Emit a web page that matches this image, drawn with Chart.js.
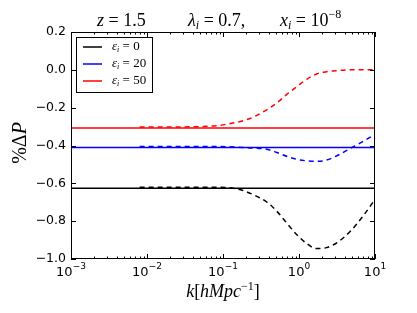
<!DOCTYPE html>
<html>
<head>
<meta charset="utf-8">
<script src="https://cdn.jsdelivr.net/npm/chart.js@4.4.1/dist/chart.umd.min.js"></script>
<style>body{margin:0;background:#fff}</style>
</head>
<body>
<canvas id="c" width="417" height="313"></canvas>
<script>
// valores de epsilon_i (legenda)
const epsValues = ['0', '20', '50'];
const colors = ['#000000', '#0000ff', '#ff0000'];

// linhas cheias (nivel constante)
const kSolid = [1e-3, 10];
const solidLevels = [-0.626, -0.41, -0.307];

// curvas tracejadas
const kDashed = [0.008, 0.02, 0.05, 0.083, 0.12, 0.18, 0.25, 0.38, 0.51, 0.69, 0.93, 1.26, 1.7, 2.3, 3.2, 4.7, 6.9, 10];
const dashedEps0 = [-0.621, -0.621, -0.621, -0.621, -0.623, -0.637, -0.66, -0.70, -0.747, -0.81, -0.87, -0.918, -0.945, -0.94, -0.912, -0.855, -0.775, -0.685];
const dashedEps20 = [-0.405, -0.405, -0.405, -0.405, -0.407, -0.41, -0.413, -0.42, -0.437, -0.457, -0.473, -0.481, -0.484, -0.477, -0.453, -0.416, -0.38, -0.34];
const dashedEps50 = [-0.302, -0.302, -0.30, -0.295, -0.285, -0.27, -0.25, -0.21, -0.175, -0.13, -0.09, -0.05, -0.022, -0.01, -0.004, 0.0, 0.0, 0.0];

// ticks
const xMajorTicks = [1e-3, 1e-2, 1e-1, 1, 10];
const xTickExp = ['-3', '-2', '-1', '0', '1'];
const yTicks = [0.2, 0.0, -0.2, -0.4, -0.6, -0.8, -1.0];

const SERIF = '"Liberation Serif", "DejaVu Serif", serif';
const SANS = '"DejaVu Sans", sans-serif';

function pts(xs, ys) {
    return xs.map((x, i) => ({ x: x, y: ys[i] }));
}

const datasets = [];
const dashedSets = [dashedEps0, dashedEps20, dashedEps50];
solidLevels.forEach((lvl, i) => {
    datasets.push({
        data: kSolid.map(k => ({ x: k, y: lvl })),
        borderColor: colors[i],
        borderWidth: 1.5,
        pointRadius: 0
    });
    datasets.push({
        data: pts(kDashed, dashedSets[i]),
        borderColor: colors[i],
        borderWidth: 1.5,
        borderDash: [5, 4],
        pointRadius: 0,
        cubicInterpolationMode: 'monotone'
    });
});

// desenha trechos de texto com fontes diferentes
function drawRuns(ctx, x, y, runs, align) {
    let total = 0;
    runs.forEach(r => { ctx.font = r[1]; total += ctx.measureText(r[0]).width; });
    let cx = x;
    if (align === 'center') cx = x - total / 2;
    runs.forEach(r => {
        ctx.font = r[1];
        ctx.fillText(r[0], cx, y + (r[2] || 0));
        cx += ctx.measureText(r[0]).width;
    });
}

const decor = {
    id: 'decor',
    afterDraw(chart) {
        const ctx = chart.ctx;
        const a = chart.chartArea;
        const xs = chart.scales.x, ys = chart.scales.y;
        ctx.save();
        ctx.strokeStyle = '#000';
        ctx.fillStyle = '#000';
        ctx.lineWidth = 1;

        // moldura
        ctx.strokeRect(a.left + 0.5, a.top + 0.5, a.right - a.left - 1, a.bottom - a.top - 1);

        // ticks x (maiores e menores)
        ctx.beginPath();
        for (let d = -3; d <= 1; d++) {
            for (let m = 1; m <= 9; m++) {
                const v = m * Math.pow(10, d);
                if (v > 10.0001) break;
                const px = Math.round(xs.getPixelForValue(v)) + 0.5;
                const len = m === 1 ? 5 : 2.5;
                ctx.moveTo(px, a.bottom); ctx.lineTo(px, a.bottom - len);
                ctx.moveTo(px, a.top); ctx.lineTo(px, a.top + len);
            }
        }
        // ticks y
        yTicks.forEach(v => {
            const py = Math.round(ys.getPixelForValue(v)) + 0.5;
            ctx.moveTo(a.left, py); ctx.lineTo(a.left + 5, py);
            ctx.moveTo(a.right, py); ctx.lineTo(a.right - 5, py);
        });
        ctx.stroke();

        // rotulos y
        ctx.textBaseline = 'middle';
        ctx.textAlign = 'right';
        ctx.font = '12.5px ' + SANS;
        yTicks.forEach(v => {
            const s = Math.abs(v) < 1e-9 ? '0.0' : v.toFixed(1).replace('-', '\u2212');
            ctx.fillText(s, a.left - 5, ys.getPixelForValue(v));
        });

        // rotulos x com expoente
        ctx.textAlign = 'left';
        ctx.textBaseline = 'alphabetic';
        xMajorTicks.forEach((v, i) => {
            const px = xs.getPixelForValue(v);
            const exp = xTickExp[i].replace('-', '\u2212');
            drawRuns(ctx, px, a.bottom + 17, [['10', '13px ' + SANS], [exp, '9px ' + SANS, -7]], 'center');
        });

        // titulo
        const it = 'italic 18px ' + SERIF, rm = '18px ' + SERIF, sub = 'italic 12px ' + SERIF, sup = '12px ' + SERIF;
        drawRuns(ctx, 97, 26, [['z', it], [' = ', rm], ['1.5', rm]]);
        drawRuns(ctx, 188, 26, [['\u03bb', it], ['i', sub, 3], [' = ', rm], ['0.7,', rm]]);
        drawRuns(ctx, 280, 26, [['x', it], ['i', sub, 3], [' = ', rm], ['10', rm], ['\u22128', sup, -8]]);

        // eixo x
        drawRuns(ctx, 223, 297, [['k', it], ['[', rm], ['hMpc', it], ['\u22121', sup, -7], [']', rm]], 'center');

        // eixo y (rotacionado)
        ctx.save();
        ctx.translate(26, 143);
        ctx.rotate(-Math.PI / 2);
        drawRuns(ctx, 0, 0, [['%\u0394', '20px ' + SERIF], ['P', 'italic 20px ' + SERIF]], 'center');
        ctx.restore();

        // legenda
        ctx.fillStyle = '#fff';
        ctx.fillRect(76.5, 37.5, 76, 55);
        ctx.strokeStyle = '#000';
        ctx.strokeRect(76.5, 37.5, 76, 55);
        epsValues.forEach((e, i) => {
            const y = 47 + i * 17;
            ctx.strokeStyle = colors[i];
            ctx.lineWidth = 1.5;
            ctx.beginPath();
            ctx.moveTo(83, y); ctx.lineTo(102, y);
            ctx.stroke();
            ctx.fillStyle = '#000';
            ctx.textBaseline = 'middle';
            drawRuns(ctx, 112, y, [['\u03b5', 'italic 13px ' + SERIF], ['i', 'italic 8px ' + SERIF, 3], [' = ' + e, '13px ' + SERIF]]);
        });
        ctx.restore();
    }
};

new Chart(document.getElementById('c'), {
    type: 'line',
    data: { datasets: datasets },
    options: {
        responsive: false,
        animation: false,
        layout: { padding: { left: 71, right: 42, top: 32, bottom: 54 } },
        plugins: { legend: { display: false }, tooltip: { enabled: false } },
        scales: {
            x: { type: 'logarithmic', min: 1e-3, max: 10, display: false },
            y: { type: 'linear', min: -1.0, max: 0.2, display: false }
        }
    },
    plugins: [decor]
});
</script>
</body>
</html>
